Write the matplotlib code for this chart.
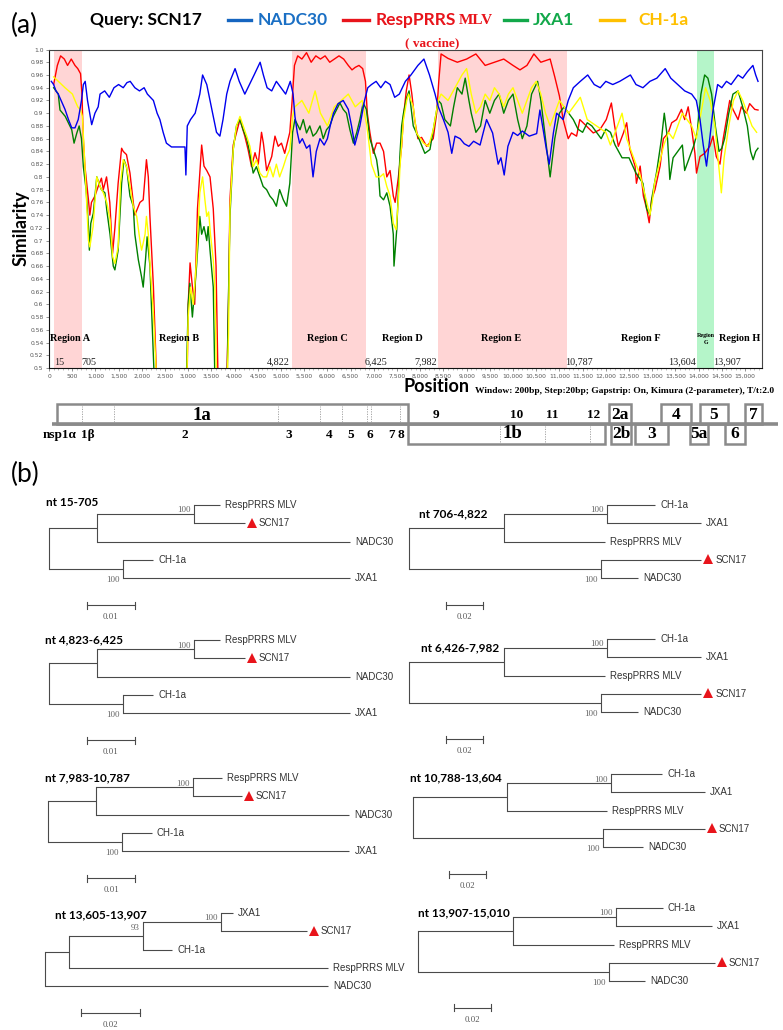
import matplotlib
matplotlib.use("Agg")
import matplotlib.pyplot as plt
import matplotlib.transforms as mtransforms
from matplotlib.patches import Rectangle
from matplotlib.lines import Line2D

# ---------------- DATA ----------------
resp_pts = [(100,0.945),(180,0.975),(250,0.99),(330,0.985),(400,0.975),(480,0.985),(560,0.975),(620,0.97),(680,0.962),(710,0.93),(740,0.86),(775,0.816),(850,0.764),(880,0.74),(915,0.76),(990,0.77),(1060,0.785),(1130,0.798),(1170,0.78),(1240,0.80),(1310,0.76),(1370,0.68),(1420,0.72),(1490,0.79),(1565,0.845),(1600,0.84),(1670,0.835),(1745,0.806),(1816,0.76),(1850,0.74),(1960,0.76),(2030,0.764),(2100,0.827),(2140,0.80),(2175,0.738),(2250,0.628),(2320,0.48),(2400,0.4),(2900,0.4),(2970,0.45),(3000,0.6),(3040,0.665),(3090,0.628),(3140,0.6),(3200,0.75),(3290,0.85),(3340,0.817),(3400,0.81),(3470,0.80),(3540,0.75),(3600,0.66),(3650,0.45),(3700,0.4),(3800,0.4),(3830,0.47),(3870,0.61),(3900,0.764),(3970,0.85),(4080,0.88),(4115,0.89),(4220,0.864),(4290,0.843),(4365,0.816),(4440,0.838),(4510,0.82),(4580,0.87),(4620,0.853),(4690,0.81),(4800,0.832),(4870,0.864),(4940,0.848),(5010,0.853),(5080,0.837),(5190,0.87),(5240,0.92),(5290,0.975),(5360,0.99),(5450,0.985),(5550,0.995),(5650,0.98),(5750,0.99),(5850,0.985),(5950,0.99),(6050,0.98),(6150,0.985),(6250,0.99),(6350,0.985),(6450,0.975),(6530,0.968),(6600,0.972),(6680,0.975),(6760,0.97),(6820,0.95),(6860,0.90),(6915,0.87),(6990,0.837),(7060,0.853),(7134,0.853),(7210,0.84),(7280,0.80),(7350,0.81),(7420,0.77),(7460,0.76),(7530,0.80),(7600,0.848),(7640,0.895),(7700,0.935),(7760,0.96),(7820,0.93),(7880,0.89),(7950,0.86),(8030,0.862),(8140,0.848),(8280,0.86),(8355,0.90),(8400,0.95),(8450,0.993),(8600,0.986),(8800,0.98),(9000,0.985),(9200,0.993),(9400,0.975),(9600,0.98),(9800,0.985),(10000,0.975),(10150,0.968),(10300,0.975),(10450,0.993),(10600,0.98),(10800,0.985),(10900,0.957),(11000,0.927),(11080,0.89),(11190,0.86),(11260,0.869),(11370,0.864),(11440,0.89),(11580,0.88),(11730,0.869),(11870,0.874),(12010,0.89),(12120,0.916),(12190,0.88),(12270,0.848),(12380,0.869),(12450,0.885),(12520,0.843),(12630,0.817),(12660,0.79),(12740,0.817),(12810,0.77),(12880,0.75),(12935,0.728),(12985,0.764),(13060,0.78),(13170,0.817),(13240,0.86),(13345,0.869),(13420,0.885),(13525,0.89),(13630,0.906),(13700,0.89),(13775,0.91),(13850,0.875),(13920,0.837),(13955,0.806),(14030,0.832),(14130,0.837),(14240,0.848),(14310,0.864),(14380,0.832),(14460,0.82),(14530,0.86),(14600,0.89),(14670,0.92),(14740,0.906),(14850,0.89),(14920,0.91),(15030,0.90),(15100,0.915),(15210,0.906),(15280,0.905)]

nadc_pts = [(50,0.95),(100,0.945),(150,0.935),(200,0.93),(260,0.92),(345,0.906),(420,0.89),(490,0.877),(560,0.877),(630,0.89),(700,0.92),(740,0.945),(780,0.95),(830,0.92),(920,0.882),(990,0.90),(1060,0.91),(1100,0.93),(1200,0.935),(1300,0.925),(1400,0.94),(1500,0.945),(1600,0.94),(1680,0.948),(1750,0.95),(1850,0.94),(1950,0.935),(2050,0.94),(2120,0.93),(2250,0.92),(2330,0.90),(2390,0.89),(2460,0.87),(2530,0.853),(2640,0.847),(2800,0.847),(2930,0.847),(2950,0.803),(2980,0.88),(3050,0.89),(3150,0.90),(3250,0.93),(3310,0.96),(3400,0.945),(3470,0.92),(3540,0.895),(3610,0.87),(3683,0.864),(3750,0.89),(3830,0.93),(3900,0.95),(4010,0.97),(4100,0.95),(4220,0.93),(4320,0.945),(4420,0.96),(4550,0.98),(4620,0.96),(4700,0.94),(4800,0.935),(4900,0.95),(5000,0.94),(5100,0.93),(5200,0.95),(5260,0.93),(5300,0.895),(5350,0.87),(5400,0.853),(5460,0.86),(5550,0.845),(5620,0.85),(5690,0.80),(5760,0.84),(5840,0.86),(5930,0.85),(6000,0.86),(6060,0.88),(6130,0.90),(6230,0.915),(6340,0.92),(6450,0.906),(6520,0.88),(6590,0.85),(6700,0.88),(6800,0.92),(6870,0.94),(6950,0.945),(7050,0.95),(7150,0.94),(7250,0.95),(7350,0.945),(7450,0.925),(7550,0.93),(7680,0.95),(7800,0.96),(7950,0.975),(8080,0.985),(8200,0.96),(8320,0.93),(8390,0.91),(8500,0.89),(8600,0.87),(8680,0.837),(8750,0.864),(8860,0.86),(8950,0.852),(9050,0.848),(9150,0.856),(9290,0.85),(9430,0.89),(9560,0.869),(9680,0.82),(9740,0.83),(9810,0.803),(9890,0.848),(10000,0.87),(10100,0.865),(10200,0.872),(10350,0.864),(10510,0.868),(10580,0.905),(10720,0.843),(10780,0.82),(10870,0.869),(10940,0.90),(11080,0.89),(11190,0.92),(11300,0.94),(11450,0.95),(11610,0.96),(11750,0.945),(11880,0.94),(12000,0.95),(12150,0.945),(12300,0.95),(12530,0.96),(12650,0.945),(12800,0.94),(12950,0.95),(13100,0.955),(13280,0.97),(13400,0.955),(13550,0.945),(13700,0.935),(13850,0.93),(13950,0.92),(14030,0.89),(14100,0.85),(14170,0.817),(14240,0.86),(14310,0.905),(14410,0.945),(14500,0.94),(14600,0.95),(14700,0.945),(14850,0.96),(14950,0.955),(15050,0.965),(15170,0.975),(15230,0.96),(15280,0.95)]

jxa1_pts = [(100,0.94),(200,0.93),(237,0.905),(350,0.895),(490,0.874),(540,0.853),(600,0.869),(650,0.88),(700,0.86),(740,0.816),(800,0.78),(850,0.722),(870,0.685),(900,0.727),(955,0.743),(1030,0.80),(1100,0.785),(1130,0.78),(1205,0.775),(1245,0.748),(1315,0.71),(1385,0.66),(1420,0.654),(1490,0.685),(1565,0.79),(1615,0.827),(1670,0.816),(1745,0.77),(1816,0.754),(1850,0.71),(1925,0.67),(1995,0.643),(2030,0.627),(2080,0.67),(2115,0.706),(2175,0.66),(2230,0.554),(2270,0.48),(2350,0.4),(2900,0.4),(2960,0.48),(3000,0.6),(3035,0.633),(3090,0.58),(3180,0.66),(3250,0.738),(3290,0.71),(3340,0.722),(3400,0.70),(3430,0.722),(3470,0.685),(3540,0.627),(3575,0.48),(3650,0.4),(3800,0.4),(3840,0.48),(3860,0.58),(3900,0.738),(3970,0.843),(4040,0.88),(4115,0.89),(4185,0.874),(4260,0.86),(4330,0.837),(4400,0.806),(4470,0.816),(4545,0.80),(4615,0.785),(4690,0.78),(4760,0.77),(4830,0.764),(4900,0.754),(4970,0.78),(5050,0.764),(5120,0.754),(5190,0.79),(5250,0.87),(5300,0.89),(5335,0.885),(5410,0.874),(5480,0.89),(5550,0.869),(5620,0.88),(5690,0.864),(5760,0.869),(5840,0.88),(5910,0.86),(5980,0.874),(6050,0.88),(6125,0.895),(6200,0.906),(6270,0.916),(6340,0.906),(6410,0.90),(6485,0.874),(6560,0.853),(6630,0.869),(6700,0.89),(6770,0.916),(6840,0.906),(6915,0.86),(6990,0.843),(7060,0.827),(7100,0.806),(7134,0.77),(7210,0.764),(7280,0.775),(7350,0.754),(7420,0.71),(7435,0.66),(7460,0.685),(7494,0.717),(7565,0.837),(7600,0.88),(7640,0.90),(7710,0.925),(7760,0.935),(7850,0.88),(7950,0.864),(8100,0.837),(8210,0.843),(8320,0.89),(8390,0.92),(8450,0.915),(8530,0.89),(8650,0.88),(8720,0.91),(8800,0.94),(8900,0.93),(8970,0.955),(9050,0.92),(9100,0.90),(9200,0.87),(9300,0.88),(9400,0.92),(9500,0.90),(9600,0.92),(9700,0.93),(9800,0.90),(9900,0.92),(10000,0.93),(10100,0.89),(10200,0.86),(10300,0.88),(10400,0.93),(10530,0.95),(10600,0.92),(10700,0.86),(10800,0.80),(10900,0.86),(11000,0.90),(11100,0.91),(11200,0.90),(11300,0.89),(11400,0.875),(11500,0.87),(11600,0.885),(11700,0.88),(11800,0.87),(11900,0.86),(12000,0.875),(12100,0.87),(12200,0.85),(12350,0.83),(12500,0.83),(12650,0.806),(12800,0.79),(12880,0.75),(12950,0.74),(13000,0.77),(13100,0.81),(13200,0.86),(13260,0.90),(13330,0.86),(13380,0.796),(13450,0.83),(13550,0.84),(13650,0.85),(13700,0.81),(13800,0.83),(13900,0.85),(13970,0.87),(14050,0.93),(14130,0.96),(14200,0.955),(14280,0.93),(14360,0.88),(14440,0.84),(14500,0.845),(14560,0.86),(14650,0.90),(14740,0.93),(14850,0.935),(14950,0.91),(15050,0.88),(15120,0.84),(15175,0.827),(15230,0.84),(15280,0.845)]

ch1a_pts = [(100,0.957),(200,0.95),(345,0.94),(505,0.93),(560,0.92),(620,0.91),(680,0.905),(720,0.895),(775,0.816),(850,0.70),(880,0.69),(950,0.722),(1030,0.80),(1100,0.785),(1170,0.775),(1245,0.76),(1315,0.733),(1370,0.675),(1420,0.664),(1490,0.69),(1540,0.79),(1600,0.827),(1670,0.816),(1745,0.785),(1816,0.754),(1890,0.738),(1960,0.70),(1995,0.685),(2030,0.696),(2070,0.71),(2100,0.738),(2140,0.71),(2190,0.648),(2250,0.585),(2320,0.48),(2400,0.4),(2900,0.4),(2970,0.48),(3000,0.58),(3050,0.627),(3110,0.60),(3180,0.67),(3250,0.775),(3310,0.80),(3360,0.764),(3400,0.738),(3440,0.745),(3480,0.71),(3540,0.67),(3575,0.627),(3610,0.48),(3700,0.4),(3800,0.4),(3840,0.48),(3870,0.554),(3900,0.75),(3970,0.843),(4040,0.88),(4115,0.895),(4185,0.88),(4260,0.864),(4330,0.848),(4400,0.816),(4470,0.827),(4545,0.806),(4615,0.80),(4690,0.80),(4760,0.816),(4830,0.80),(4900,0.82),(4970,0.80),(5050,0.816),(5120,0.832),(5190,0.843),(5250,0.895),(5300,0.91),(5450,0.92),(5600,0.90),(5735,0.935),(5850,0.90),(6000,0.88),(6150,0.91),(6300,0.92),(6450,0.93),(6600,0.91),(6750,0.92),(6850,0.88),(6950,0.82),(7050,0.80),(7134,0.80),(7210,0.805),(7280,0.785),(7350,0.77),(7420,0.727),(7480,0.717),(7530,0.764),(7565,0.817),(7640,0.89),(7710,0.92),(7750,0.93),(7850,0.91),(7920,0.869),(8070,0.853),(8180,0.848),(8280,0.874),(8390,0.92),(8450,0.93),(8600,0.92),(8750,0.94),(8900,0.96),(9000,0.97),(9100,0.93),(9200,0.90),(9300,0.91),(9400,0.93),(9500,0.92),(9600,0.94),(9700,0.93),(9800,0.91),(9900,0.93),(10000,0.94),(10100,0.92),(10200,0.90),(10300,0.92),(10400,0.94),(10500,0.95),(10600,0.93),(10700,0.90),(10800,0.88),(10900,0.90),(11000,0.92),(11100,0.91),(11200,0.90),(11300,0.91),(11450,0.925),(11600,0.89),(11800,0.88),(12000,0.87),(12100,0.85),(12250,0.88),(12350,0.90),(12450,0.86),(12550,0.84),(12650,0.82),(12750,0.80),(12850,0.77),(12950,0.74),(13000,0.76),(13050,0.79),(13150,0.82),(13250,0.85),(13350,0.87),(13450,0.86),(13550,0.88),(13650,0.90),(13750,0.89),(13850,0.88),(13950,0.86),(14050,0.90),(14150,0.94),(14250,0.92),(14350,0.88),(14430,0.82),(14490,0.775),(14550,0.83),(14650,0.88),(14750,0.92),(14850,0.935),(14950,0.92),(15050,0.90),(15150,0.88),(15250,0.87)]

series_names = ['NADC30', 'RespPRRS MLV', 'JXA1', 'CH-1a']

pink_spans = [(100, 710), (5240, 6830), (8390, 11165)]
green_spans = [(13972, 14332)]
region_names = ['Region A', 'Region B', 'Region C', 'Region D', 'Region E', 'Region F', 'Region G', 'Region H']
region_x = [460, 2800, 6010, 7605, 9740, 12760, 14160, 14890]
breakpoint_labels = ['15', '705', '4,822', '6,425', '7,982', '10,787', '13,604', '13,907']
breakpoint_x = [215, 862, 4935, 7047, 8125, 11420, 13640, 14610]

y_ticks = [0.5 + 0.02 * i for i in range(26)]
x_ticks = list(range(0, 15001, 500))

orf_top = [('1a', 172, 7737), ('2a', 12069, 12543), ('4', 13190, 13836), ('5', 14030, 14634), ('7', 15000, 15366)]
orf_bottom = [('1b', 7737, 11983), ('2b', 12112, 12543), ('3', 12629, 13340), ('5a', 13815, 14200), ('6', 14570, 15000)]
nsp_div_1a = [711, 1400, 4935, 5840, 6315, 6853, 6940, 7565]
nsp_div_1b = [9720, 10690, 11660]
nsp_labels_bottom = [('nsp1α', 237), ('1β', 840), ('2', 2931), ('3', 5172), ('4', 6034), ('5', 6509), ('6', 6918), ('7', 7392), ('8', 7586)]
nsp_labels_top = [('9', 8340), ('10', 10086), ('11', 10840), ('12', 11746)]
orf_label_x = {'1a': 3297, '1b': 9978}

tree_titles = ['nt 15-705', 'nt 706-4,822', 'nt 4,823-6,425', 'nt 6,426-7,982',
               'nt 7,983-10,787', 'nt 10,788-13,604', 'nt 13,605-13,907', 'nt 13,907-15,010']
tree_newick = [
    "(((RespPRRS MLV:0.0054,SCN17:0.0106)100:0.0202,NADC30:0.0527):0.0100,(CH-1a:0.0063,JXA1:0.0473)100:0.0154);",
    "(((CH-1a:0.026,JXA1:0.051)100:0.0556,RespPRRS MLV:0.0546):0.0514,(SCN17:0.0542,NADC30:0.0202)100:0.1038);",
    "(((RespPRRS MLV:0.0054,SCN17:0.0106)100:0.0202,NADC30:0.0527):0.0100,(CH-1a:0.0063,JXA1:0.0473)100:0.0154);",
    "(((CH-1a:0.026,JXA1:0.051)100:0.0556,RespPRRS MLV:0.0546):0.0514,(SCN17:0.0542,NADC30:0.0202)100:0.1038);",
    "(((RespPRRS MLV:0.0060,SCN17:0.0102)100:0.0202,NADC30:0.0528):0.0100,(CH-1a:0.0062,JXA1:0.0474)100:0.0154);",
    "(((CH-1a:0.0276,JXA1:0.0508)100:0.0562,RespPRRS MLV:0.0541):0.0508,(SCN17:0.0551,NADC30:0.0216)100:0.1027);",
    "((((JXA1:0.0040,SCN17:0.0291)100:0.0265,CH-1a:0.0099)93:0.0251,RespPRRS MLV:0.0878):0.0081,NADC30:0.0959);",
    "(((CH-1a:0.0254,JXA1:0.0519)100:0.0556,RespPRRS MLV:0.0545):0.0514,(SCN17:0.0573,NADC30:0.0195)100:0.1032);",
]
tree_scale = [0.01, 0.02, 0.01, 0.02, 0.01, 0.02, 0.02, 0.02]

# ---------------- FIGURE ----------------
W, H = 783, 1030
fig = plt.figure(figsize=(W / 100, H / 100), dpi=100)
SANS_B = dict(family=['Lato', 'DejaVu Sans'], weight='bold')
SERIF = ['Liberation Serif', 'DejaVu Serif']
ARIAL = ['Liberation Sans', 'DejaVu Sans']


def frect(x0, y0, x1, y1):
    return [x0 / W, 1 - y1 / H, (x1 - x0) / W, (y1 - y0) / H]


def fpt(x, y):
    return x / W, 1 - y / H


# ---------- panel (a) similarity plot ----------
ax = fig.add_axes(frect(49, 49.5, 762, 368))
ax.set_xlim(0, 15366)
ax.set_ylim(0.5, 1.0)
for a, b in pink_spans:
    ax.axvspan(a, b, color='#FFD5D5', lw=0, zorder=0)
for a, b in green_spans:
    ax.axvspan(a, b, color='#B5F5C9', lw=0, zorder=0)

line_colors = {'RespPRRS MLV': '#FF0000', 'JXA1': '#008000', 'CH-1a': '#FFFF00', 'NADC30': '#0000EE'}
for name, pts, z in [('RespPRRS MLV', resp_pts, 2), ('JXA1', jxa1_pts, 3), ('CH-1a', ch1a_pts, 4), ('NADC30', nadc_pts, 5)]:
    xs = [p[0] for p in pts]
    ys = [p[1] for p in pts]
    ax.plot(xs, ys, color=line_colors[name], lw=1.0, zorder=z)

for name, x in zip(region_names, region_x):
    if name == 'Region G':
        ax.text(x, 0.545, 'Region\nG', ha='center', va='center', family=SERIF, weight='bold',
                fontsize=4.3, linespacing=1.5, zorder=6)
    else:
        ax.text(x, 0.547, name, ha='center', va='center', family=SERIF, weight='bold', fontsize=7.4, zorder=6)
for lab, x in zip(breakpoint_labels, breakpoint_x):
    ax.text(x, 0.509, lab, ha='center', va='center', family=SERIF, fontsize=7.3, color='#222', zorder=6)

ax.set_yticks(y_ticks)
ax.set_yticklabels(['1.0' if abs(v - 1) < 1e-9 else ('%g' % round(v, 2)) for v in y_ticks])
ax.set_xticks(x_ticks)
ax.set_xticklabels([f'{v:,}' for v in x_ticks])
ax.set_xticks(list(range(0, 15366, 100)), minor=True)
ax.tick_params(axis='both', which='major', labelsize=4.3, labelcolor='#555', length=2.5, width=0.5,
               color='#666', pad=1.5)
ax.tick_params(axis='x', which='minor', length=1.2, width=0.4, color='#888')
for s in ax.spines.values():
    s.set_linewidth(0.8)
    s.set_color('#444')
ax.spines['left'].set_color('#111')
ax.spines['bottom'].set_color('#111')

fig.text(*fpt(21, 228), 'Similarity', rotation=90, ha='center', va='center', fontsize=13, **SANS_B)

win = fig.text(*fpt(774, 395), 'Window: 200bp, Step:20bp; Gapstrip: On, Kimura (2-parameter), T/t:2.0',
               ha='right', va='bottom', family=SERIF, weight='bold', fontsize=6.8)
plt.annotate('Position', xy=(0, 0), xycoords=win, xytext=(-4, 0), textcoords='offset points',
             ha='right', va='bottom', fontsize=13, **SANS_B)

# header / legend
fig.text(*fpt(11, 25), '(a)', ha='left', va='center', fontsize=19, family=['Lato', 'DejaVu Sans'])
fig.text(*fpt(90, 20), 'Query: SCN17', ha='left', va='center', fontsize=12.5, color='black', **SANS_B)
legend_colors = {'NADC30': ('#1A6FC4', '#1565C0'), 'RespPRRS MLV': ('#E8141B', '#E8141B'),
                 'JXA1': ('#12A84A', '#12A84A'), 'CH-1a': ('#FFC000', '#FFC000')}
legend_line_px = [(228, 251), (343, 369), (504, 527), (600, 624)]
legend_text_px = [258, 376, 533, 638]
for name, (lx0, lx1), tx in zip(series_names, legend_line_px, legend_text_px):
    tcol, lcol = legend_colors[name]
    fig.add_artist(Line2D([lx0 / W, lx1 / W], [1 - 20 / H] * 2, transform=fig.transFigure, color=lcol, lw=2.4))
    if name == 'RespPRRS MLV':
        t1 = fig.text(*fpt(tx, 20), 'RespPRRS', ha='left', va='center', fontsize=12.5, color=tcol, **SANS_B)
        plt.annotate('MLV', xy=(1, 0.5), xycoords=t1, xytext=(1.5, -0.5), textcoords='offset points',
                     ha='left', va='center', fontsize=11, color=tcol, family=SERIF, weight='bold')
        fig.text(*fpt(tx + 56, 43), '( vaccine)', ha='center', va='center', fontsize=9.5, color=tcol,
                 family=SERIF, weight='bold')
    else:
        fig.text(*fpt(tx, 20), name, ha='left', va='center', fontsize=12.5, color=tcol, **SANS_B)

# ---------- genome map ----------
gm = fig.add_axes(frect(49, 398, 762, 452))
gm.set_xlim(0, 15366)
gm.set_ylim(-1.4, 1.3)
gm.axis('off')
GREY = '#8a8a8a'
gm.plot([60, 15720], [0, 0], color=GREY, lw=2.6, clip_on=False, solid_capstyle='butt', zorder=1)
for name, a, b in orf_top:
    gm.add_patch(Rectangle((a, 0), b - a, 1.0, fill=False, ec=GREY, lw=1.8, clip_on=False, zorder=2))
    gm.text(orf_label_x.get(name, (a + b) / 2), 0.45, name, ha='center', va='center', family=SERIF,
            weight='bold', fontsize=13.5 if name == '1a' else 12.5, clip_on=False)
for name, a, b in orf_bottom:
    gm.add_patch(Rectangle((a, -1.0), b - a, 1.0, fill=False, ec=GREY, lw=1.8, clip_on=False, zorder=2))
    gm.text(orf_label_x.get(name, (a + b) / 2), -0.5, name, ha='center', va='center', family=SERIF,
            weight='bold', fontsize=13.5 if name == '1b' else 12.5, clip_on=False)
for d in nsp_div_1a:
    gm.plot([d, d], [0.08, 0.92], color='#999', lw=0.6, ls=(0, (1.5, 1.5)))
for d in nsp_div_1b:
    gm.plot([d, d], [-0.92, -0.08], color='#999', lw=0.6, ls=(0, (1.5, 1.5)))
for lab, x in nsp_labels_bottom:
    gm.text(x, -0.55, lab, ha='center', va='center', family=SERIF, weight='bold', fontsize=9.5, clip_on=False)
for lab, x in nsp_labels_top:
    gm.text(x, 0.45, lab, ha='center', va='center', family=SERIF, weight='bold', fontsize=9.5, clip_on=False)

# ---------- panel (b) trees ----------
fig.text(*fpt(11, 474), '(b)', ha='left', va='center', fontsize=19, family=['Lato', 'DejaVu Sans'])


def parse_newick(s):
    s = s.strip().rstrip(';')
    pos = 0

    def node():
        nonlocal pos
        n = {'children': [], 'name': '', 'len': 0.0, 'support': None}
        if s[pos] == '(':
            pos += 1
            while True:
                n['children'].append(node())
                ch = s[pos]
                pos += 1
                if ch == ')':
                    break
        start = pos
        while pos < len(s) and s[pos] not in ':,)':
            pos += 1
        lab = s[start:pos]
        if n['children']:
            n['support'] = lab or None
        else:
            n['name'] = lab
        if pos < len(s) and s[pos] == ':':
            pos += 1
            start = pos
            while pos < len(s) and s[pos] not in ',)':
                pos += 1
            n['len'] = float(s[start:pos])
        return n
    return node()


def layout(n, x0, leaves):
    n['x'] = x0 + n['len']
    if n['children']:
        for c in n['children']:
            layout(c, n['x'], leaves)
        n['y'] = (n['children'][0]['y'] + n['children'][-1]['y']) / 2
    else:
        n['y'] = len(leaves)
        leaves.append(n)


TC = '#4a4a4a'
SP = 18.3  # px per leaf


def draw_tree(nwk, title, scale_len, root_px, leaf0_py, S, scale_px, title_px):
    axw = 380
    t = fig.add_axes(frect(root_px, leaf0_py - 20, root_px + axw, leaf0_py + 125))
    t.set_xlim(0, axw / S)
    t.set_ylim(125 / SP, -20 / SP)
    t.axis('off')
    root = parse_newick(nwk)
    leaves = []
    layout(root, 0.0, leaves)

    def off(dx, dy):
        return mtransforms.offset_copy(t.transData, fig=fig, x=dx, y=dy, units='dots')

    def rec(n):
        if not n['children']:
            return
        ys = [c['y'] for c in n['children']]
        t.plot([n['x'], n['x']], [min(ys), max(ys)], color=TC, lw=0.8, clip_on=False, solid_capstyle='projecting')
        for i, c in enumerate(n['children']):
            t.plot([n['x'], c['x']], [c['y'], c['y']], color=TC, lw=0.8, clip_on=False, solid_capstyle='butt')
            if c['support']:
                if i == 0:
                    t.text(c['x'], c['children'][0]['y'], c['support'], transform=off(-3, -1.5), ha='right',
                           va='top', family=SERIF, fontsize=6.5, color='#666', zorder=5)
                else:
                    t.text(c['x'], c['children'][-1]['y'], c['support'], transform=off(-3, -1.5), ha='right',
                           va='center', family=SERIF, fontsize=6.5, color='#666', zorder=5)
            rec(c)
    rec(root)
    for lf in leaves:
        if lf['name'] == 'SCN17':
            t.plot([lf['x']], [lf['y']], marker='^', color='#E8141B', ms=6.5, mew=0,
                   transform=off(7, 0.5), clip_on=False)
            t.text(lf['x'], lf['y'], lf['name'], transform=off(14, 0), ha='left', va='center',
                   family=ARIAL, fontsize=7, color='#333')
        else:
            t.text(lf['x'], lf['y'], lf['name'], transform=off(5, 0), ha='left', va='center',
                   family=ARIAL, fontsize=7, color='#333')
    # scale bar
    sx = (scale_px - root_px) / S
    sy = 100 / SP
    t.plot([sx, sx + scale_len], [sy, sy], color=TC, lw=0.8, clip_on=False)
    for xx in (sx, sx + scale_len):
        t.plot([xx, xx], [sy - 3.5 / SP, sy + 3.5 / SP], color=TC, lw=0.8, clip_on=False)
    t.text(sx + scale_len / 2, sy + 12 / SP, f'{scale_len:.2f}', ha='center', va='center', family=SERIF,
           fontsize=6.3, color='#555')
    fig.text(*fpt(*title_px), title, ha='left', va='center', fontsize=8.5, **SANS_B)


tree_layout = [
    (49, 505, 4800, 87, (46, 503)),
    (409, 505, 1850, 446, (419, 514)),
    (49, 640, 4800, 87, (45, 640)),
    (409, 639, 1850, 446, (421, 648)),
    (48, 778, 4800, 87, (45, 778)),
    (413, 774, 1850, 449, (410, 778)),
    (45, 913, 2950, 81, (55, 915)),
    (418, 908, 1850, 454, (418, 913)),
]
for nwk, title, sc, (rx, ly, S, scx, tp) in zip(tree_newick, tree_titles, tree_scale, tree_layout):
    draw_tree(nwk, title, sc, rx, ly, S, scx, tp)

fig.savefig('out.png', dpi=100)
